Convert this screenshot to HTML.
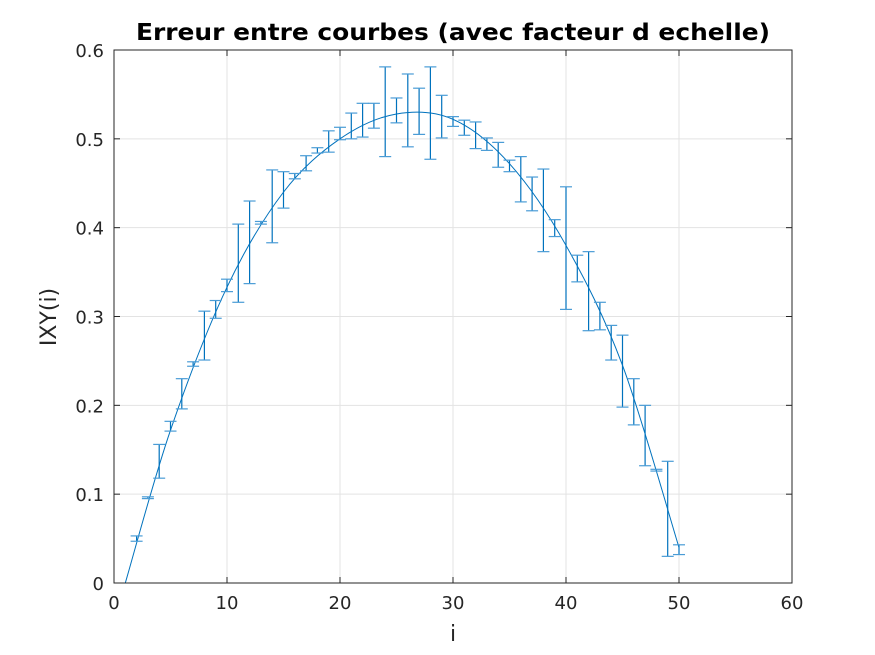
<!DOCTYPE html>
<html><head><meta charset="utf-8"><style>
body{margin:0;background:#fff;}
svg{display:block;font-family:"DejaVu Sans","Liberation Sans",sans-serif;}
</style></head><body>
<svg id="chart" width="875" height="655" viewBox="0 0 875 655">
<rect width="875" height="655" fill="#fff"/>
<g id="grid"></g><g id="series"></g><g id="axes"></g>
<text x="453" y="40" text-anchor="middle" font-size="23" font-weight="bold" fill="#000" textLength="634" lengthAdjust="spacingAndGlyphs">Erreur entre courbes (avec facteur d echelle)</text>
<text x="453" y="641" text-anchor="middle" font-size="22" fill="#262626">i</text>
<text transform="translate(56,317) rotate(-90)" text-anchor="middle" font-size="22" fill="#262626">IXY(i)</text>
</svg>
<script>
const idx = [2,3,4,5,6,7,8,9,10,11,12,13,14,15,16,17,18,19,20,21,22,23,24,25,26,27,28,29,30,31,32,33,34,35,36,37,38,39,40,41,42,43,44,45,46,47,48,49,50];
const lower = [0.047,0.095,0.118,0.171,0.196,0.244,0.251,0.298,0.328,0.316,0.337,0.404,0.383,0.422,0.455,0.464,0.484,0.485,0.499,0.500,0.502,0.512,0.480,0.518,0.491,0.505,0.477,0.501,0.514,0.504,0.489,0.487,0.468,0.463,0.429,0.419,0.373,0.390,0.308,0.339,0.284,0.285,0.251,0.198,0.178,0.132,0.126,0.030,0.032];
const upper = [0.053,0.097,0.156,0.182,0.230,0.249,0.306,0.318,0.342,0.404,0.430,0.407,0.465,0.463,0.461,0.481,0.490,0.509,0.513,0.529,0.540,0.540,0.581,0.546,0.573,0.557,0.581,0.549,0.525,0.521,0.519,0.501,0.496,0.476,0.480,0.457,0.466,0.409,0.446,0.369,0.373,0.316,0.290,0.279,0.230,0.200,0.128,0.137,0.043];
const curveX = [1,5,10,15,20,25,30,35,40,45,50];
const curveY = [0,0.172,0.333,0.44,0.5,0.528,0.522,0.472,0.38,0.245,0.04];
const xTicks = [0,10,20,30,40,50,60];
const yTicks = [0,0.1,0.2,0.3,0.4,0.5,0.6];

const X0=114,X1=792,Y0=583,Y1=50;
const sx=v=>X0+(v-0)/(60-0)*(X1-X0);
const sy=v=>Y0-(v-0)/(0.6-0)*(Y0-Y1);
const NS="http://www.w3.org/2000/svg";
function mk(tag,attrs,parent){const e=document.createElementNS(NS,tag);for(const k in attrs)e.setAttribute(k,attrs[k]);parent.appendChild(e);return e;}
const grid=document.getElementById('grid'),series=document.getElementById('series'),axes=document.getElementById('axes');
xTicks.forEach(t=>{
  const l=mk('line',{x1:sx(t),x2:sx(t),y1:Y1,y2:Y0,stroke:'#e3e3e3','stroke-width':1},grid);
  
  
  mk('line',{x1:sx(t),x2:sx(t),y1:Y0,y2:Y0-6,stroke:'#262626'},axes);
  mk('line',{x1:sx(t),x2:sx(t),y1:Y1,y2:Y1+6,stroke:'#262626'},axes);
  const tx=mk('text',{x:sx(t),y:Y0+26,'text-anchor':'middle','font-size':18,fill:'#262626'},axes);
  tx.textContent=t;
  
  
});
yTicks.forEach(t=>{
  const l=mk('line',{x1:X0,x2:X1,y1:sy(t),y2:sy(t),stroke:'#e3e3e3','stroke-width':1},grid);
  
  
  mk('line',{x1:X0,x2:X0+6,y1:sy(t),y2:sy(t),stroke:'#262626'},axes);
  mk('line',{x1:X1,x2:X1-6,y1:sy(t),y2:sy(t),stroke:'#262626'},axes);
  const tx=mk('text',{x:X0-10,y:sy(t)+7,'text-anchor':'end','font-size':18,fill:'#262626'},axes);
  tx.textContent=(t===0?'0':t.toFixed(1));
  
  
});
const box=mk('rect',{x:X0,y:Y1,width:X1-X0,height:Y0-Y1,fill:'none',stroke:'#262626','stroke-width':1},axes);


const P=curveX.map((x,i)=>[sx(x),sy(curveY[i])]);
let d='M'+P[0][0]+','+P[0][1];
for(let i=0;i<P.length-1;i++){
  const p0=P[Math.max(0,i-1)],p1=P[i],p2=P[i+1],p3=P[Math.min(P.length-1,i+2)];
  const c1=[p1[0]+(p2[0]-p0[0])/6,p1[1]+(p2[1]-p0[1])/6];
  const c2=[p2[0]-(p3[0]-p1[0])/6,p2[1]-(p3[1]-p1[1])/6];
  d+=` C${c1[0]},${c1[1]} ${c2[0]},${c2[1]} ${p2[0]},${p2[1]}`;
}
const cp=mk('path',{d:d,fill:'none',stroke:'#0072BD','stroke-width':1},series);


idx.forEach((x,i)=>{
  const g=mk('g',{stroke:'#0072BD','stroke-width':1.2},series);
  
  
  const cx=sx(x),yt=sy(upper[i]),yb=sy(lower[i]);
  mk('line',{x1:cx,x2:cx,y1:yt,y2:yb},g);
  mk('line',{x1:cx-6,x2:cx+6,y1:yt,y2:yt,stroke:'#4a9cd6'},g);
  mk('line',{x1:cx-6,x2:cx+6,y1:yb,y2:yb,stroke:'#4a9cd6'},g);
});
</script>
</body></html>
